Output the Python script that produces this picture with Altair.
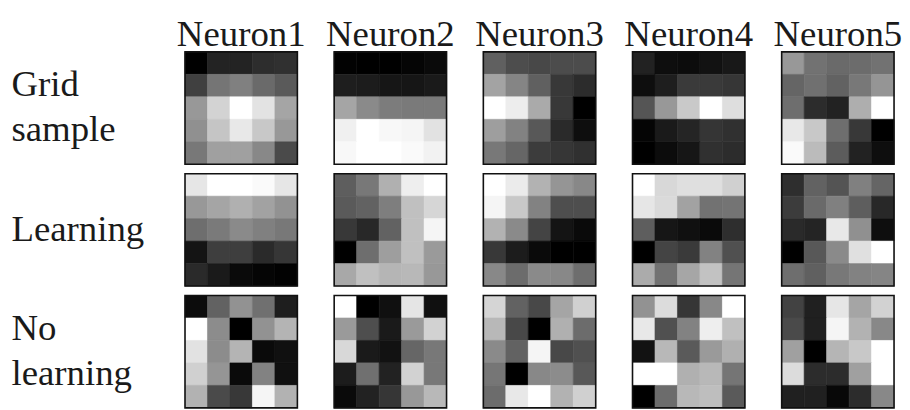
import altair as alt
import pandas as pd

neurons = ["Neuron1", "Neuron2", "Neuron3", "Neuron4", "Neuron5"]
conditions = ["Grid|sample", "Learning", "No|learning"]

# Grid sample (gray level 0-255, rows top to bottom)
gs1 = [[0, 35, 35, 45, 48], [64, 117, 128, 106, 90], [152, 211, 255, 227, 165],
       [144, 197, 232, 200, 152], [120, 160, 160, 136, 74]]
gs2 = [[2, 0, 0, 5, 10], [30, 28, 22, 22, 26], [165, 138, 124, 122, 122],
       [240, 255, 248, 245, 226], [248, 255, 255, 250, 242]]
gs3 = [[96, 77, 72, 76, 76], [163, 133, 96, 56, 44], [255, 237, 170, 56, 0],
       [158, 130, 88, 42, 14], [120, 102, 60, 54, 48]]
gs4 = [[34, 14, 12, 18, 24], [14, 30, 58, 58, 54], [85, 152, 201, 255, 222],
       [5, 26, 37, 53, 48], [0, 12, 22, 48, 44]]
gs5 = [[152, 114, 106, 108, 114], [101, 112, 98, 120, 149], [110, 44, 34, 174, 255],
       [232, 200, 110, 56, 0], [250, 187, 92, 34, 14]]

# Learning
le1 = [[230, 255, 255, 250, 230], [152, 165, 176, 162, 146], [110, 122, 138, 128, 120],
       [20, 62, 62, 42, 54], [42, 26, 10, 5, 2]]
le2 = [[94, 120, 176, 238, 255], [90, 98, 126, 192, 214], [56, 40, 98, 192, 245],
       [0, 110, 158, 192, 154], [168, 192, 181, 184, 152]]
le3 = [[255, 235, 178, 149, 136], [245, 200, 130, 78, 78], [178, 138, 68, 20, 10],
       [56, 28, 10, 0, 0], [136, 108, 138, 136, 110]]
le4 = [[255, 216, 223, 223, 208], [230, 218, 162, 114, 116], [94, 22, 16, 10, 46],
       [0, 68, 58, 130, 80], [171, 114, 166, 194, 117]]
le5 = [[46, 98, 84, 128, 101], [60, 106, 128, 94, 40], [42, 36, 232, 144, 14],
       [0, 88, 138, 224, 255], [110, 96, 120, 130, 133]]

# No learning
nl1 = [[12, 98, 146, 112, 30], [255, 140, 0, 146, 180], [226, 140, 180, 10, 16],
       [208, 149, 10, 130, 16], [178, 74, 56, 245, 178]]
nl2 = [[255, 0, 16, 229, 16], [154, 78, 26, 154, 210], [216, 26, 18, 102, 120],
       [28, 112, 34, 210, 120], [10, 34, 54, 152, 184]]
nl3 = [[213, 98, 72, 165, 208], [184, 72, 0, 176, 108], [138, 98, 245, 72, 80],
       [118, 0, 136, 140, 88], [108, 232, 255, 178, 208]]
nl4 = [[146, 220, 54, 136, 255], [232, 80, 130, 238, 192], [18, 184, 90, 154, 176],
       [255, 255, 176, 184, 117], [0, 108, 184, 190, 90]]
nl5 = [[66, 32, 230, 165, 210], [74, 32, 245, 178, 136], [160, 0, 181, 200, 255],
       [220, 44, 44, 160, 255], [32, 32, 8, 44, 136]]

panels = {
    "Grid|sample": [gs1, gs2, gs3, gs4, gs5],
    "Learning": [le1, le2, le3, le4, le5],
    "No|learning": [nl1, nl2, nl3, nl4, nl5],
}

records = []
for cond in conditions:
    for neuron, mat in zip(neurons, panels[cond]):
        for i, row in enumerate(mat):
            for j, v in enumerate(row):
                records.append({"cond": cond, "neuron": neuron, "i": i, "j": j, "v": v})
df = pd.DataFrame(records)
frames = pd.DataFrame([{"cond": c, "neuron": n} for c in conditions for n in neurons])

gray = alt.Scale(domain=[0, 255], range=["#000000", "#ffffff"], interpolate="rgb")
FONT = "Liberation Serif"
INK = "#1a1a1a"

x_enc = alt.X(
    "neuron:N", sort=neurons, title=None,
    scale=alt.Scale(paddingInner=37 / 150, paddingOuter=0),
    axis=alt.Axis(orient="top", ticks=False, domain=False, labelAngle=0,
                  labelFont=FONT, labelFontSize=37, labelColor=INK,
                  labelBaseline="alphabetic", labelPadding=6, labelLimit=0),
)
y_enc = alt.Y(
    "cond:N", sort=conditions, title=None,
    scale=alt.Scale(paddingInner=9.5 / 122.5, paddingOuter=0),
    axis=alt.Axis(orient="left", ticks=False, domain=False,
                  labelAlign="left", labelPadding=175, labelLimit=0,
                  labelFont=FONT, labelFontSize=37, labelColor=INK,
                  labelLineHeight=45,
                  labelBaseline={"condition": {"test": "indexof(datum.value, '|') >= 0",
                                               "value": "line-bottom"},
                                 "value": "middle"},
                  labelExpr="split(datum.value, '|')"),
)

cells = alt.Chart(df).mark_rect(strokeWidth=0.6).encode(
    x=x_enc,
    y=y_enc,
    xOffset=alt.XOffset("j:O", scale=alt.Scale(paddingInner=0, paddingOuter=0)),
    yOffset=alt.YOffset("i:O", scale=alt.Scale(paddingInner=0, paddingOuter=0)),
    color=alt.Color("v:Q", scale=gray, legend=None),
    stroke=alt.Stroke("v:Q", scale=gray, legend=None),
)

borders = alt.Chart(frames).mark_rect(
    fillOpacity=0, stroke="#111111", strokeWidth=1.6
).encode(
    x=alt.X("neuron:N", sort=neurons),
    y=alt.Y("cond:N", sort=conditions),
)

chart = alt.layer(cells, borders).properties(
    width=713, height=358,
    padding={"left": 3, "top": 7, "right": 0, "bottom": 0},
).configure_view(stroke=None)

chart.save("out.html", embed_options={"renderer": "svg", "actions": False})
